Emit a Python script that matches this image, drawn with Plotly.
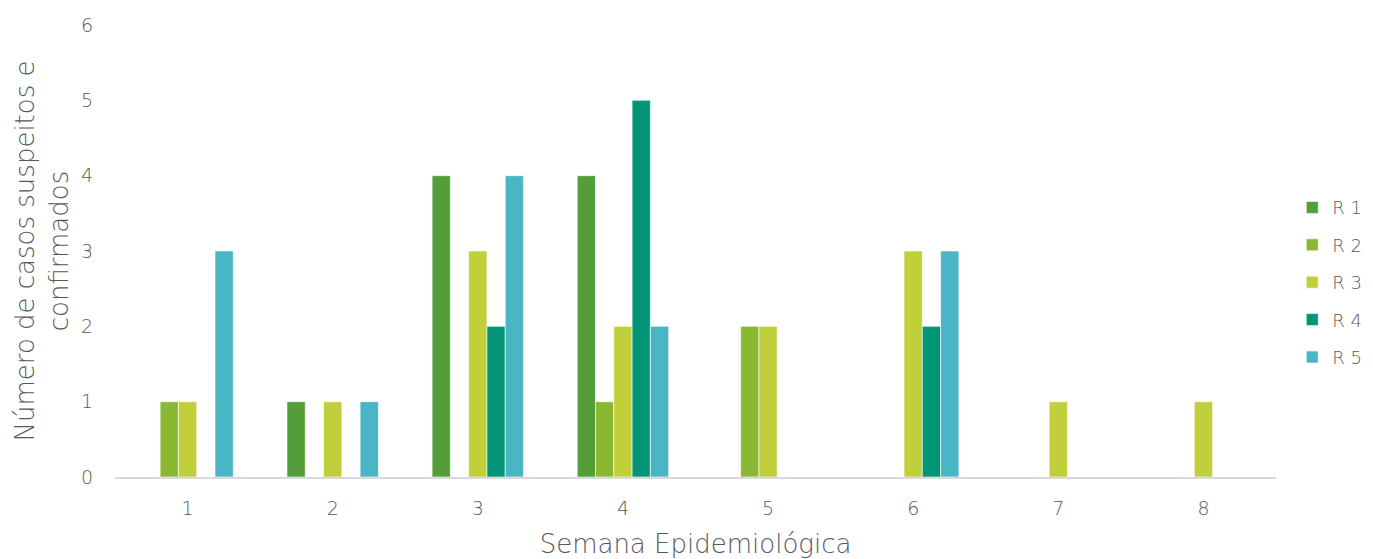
import plotly.graph_objects as go

weeks = ["1", "2", "3", "4", "5", "6", "7", "8"]
series_names = ["R 1", "R 2", "R 3", "R 4", "R 5"]
r1 = [0, 1, 4, 4, 0, 0, 0, 0]
r2 = [1, 0, 0, 1, 2, 0, 0, 0]
r3 = [1, 1, 3, 2, 2, 3, 1, 1]
r4 = [0, 0, 2, 5, 0, 2, 0, 0]
r5 = [3, 1, 4, 2, 0, 3, 0, 0]
colors = ["#549E39", "#8AB833", "#C0CF3A", "#029676", "#4AB5C4"]

FONT = "DejaVu Sans, sans-serif"
GRAY = "#595959"

fig = go.Figure()
for name, vals, col in zip(series_names, [r1, r2, r3, r4, r5], colors):
    fig.add_trace(go.Bar(
        x=weeks, y=vals, name=name, legendgroup=name,
        marker=dict(color=col, line=dict(color="rgba(255,255,255,0.6)", width=1)),
    ))

fig.update_layout(
    width=1365, height=551,
    barmode="group", bargap=0.37, bargroupgap=0,
    plot_bgcolor="white", paper_bgcolor="white",
    margin=dict(l=107, r=97, t=17, b=82, autoexpand=False),
    font=dict(family=FONT, color=GRAY, size=19, weight=300),
    legend=dict(x=1.014, y=0.431, yanchor="middle", xanchor="left",
                font=dict(size=18, color=GRAY, weight=300), tracegroupgap=11,
                itemwidth=30, traceorder="grouped"),
    xaxis=dict(
        showgrid=False, showline=True, linecolor="#D9D9D9", linewidth=1.5,
        ticks="outside", ticklen=13, tickcolor="rgba(0,0,0,0)",
        tickfont=dict(size=19, color=GRAY, weight=300), automargin=False,
        title=dict(text="Semana Epidemiológica", font=dict(size=26, color=GRAY, weight=300), standoff=18),
    ),
    yaxis=dict(
        range=[0, 6], dtick=1, showgrid=False, zeroline=False, showline=False,
        ticks="outside", ticklen=17, tickcolor="rgba(0,0,0,0)", automargin=False,
        tickfont=dict(size=19, color=GRAY, weight=300),
        title=dict(text="Número de casos suspeitos e<br>confirmados",
                   font=dict(size=26, color=GRAY, weight=300), standoff=5),
    ),
)

fig.write_html("out.html")
